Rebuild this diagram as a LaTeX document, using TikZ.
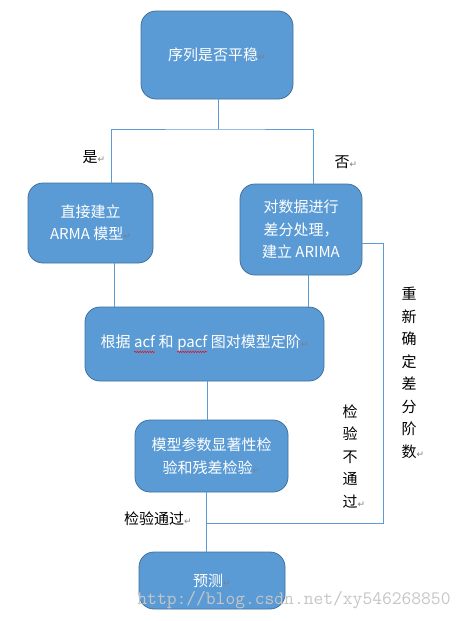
\documentclass[tikz,border=0pt]{standalone}
\usepackage{fontspec}
\usetikzlibrary{decorations.pathmorphing}
\setmainfont{Noto Sans CJK SC}
\newfontfamily\symfont{DejaVu Sans}
\definecolor{boxblue}{HTML}{5B9BD5}
\definecolor{boxedge}{HTML}{41719C}
\definecolor{linkblue}{HTML}{5B9BD5}
\newcommand{\ret}{{\symfont\fontsize{9}{9}\selectfont\color{gray}↵}}
\newcommand{\spell}[1]{\tikz[baseline=(w.base)]{\node[inner sep=0pt, outer sep=0pt, minimum width=0pt,
    minimum height=0pt, draw=none, fill=none, rounded corners=0pt, text=white](w){#1};
  \draw[red, line width=0.5pt, rounded corners=0pt, decorate, decoration={snake, amplitude=0.7pt, segment length=2.5pt}]
    ([yshift=-4pt]w.base west) -- ([yshift=-4pt]w.base east);}}

\begin{document}
\begin{tikzpicture}[x=1pt, y=-1pt,
    box/.style={draw=boxedge, fill=boxblue, rounded corners=15pt, text=white, align=center,
      font=\fontsize{15}{22.5}\selectfont, line width=0.8pt, inner sep=0pt},
    link/.style={draw=linkblue, line width=0.8pt},
    lbl/.style={font=\fontsize{15}{22.5}\selectfont, inner sep=0pt, align=center}]
  \useasboundingbox[fill=white] (0,0) rectangle (466,621);

  % boxes
  \node[box, minimum width=152pt, minimum height=88pt] (seq) at (217,55) {序列是否平稳\ret};
  \node[box, minimum width=125pt, minimum height=80pt] (direct) at (90.5,223) {直接建立\\ARMA 模型\ret};
  \node[box, minimum width=122pt, minimum height=91pt] (diff) at (301,229.5) {对数据进行\\差分处理，\\建立 ARIMA};
  \node[box, minimum width=239pt, minimum height=74pt] (order) at (204.5,344) {根据 \spell{acf} 和 \spell{pacf} 图对模型定阶\ret};
  \node[box, minimum width=153pt, minimum height=72pt] (check) at (211.5,456) {模型参数显著性检\\验和残差检验\ret};
  \node[box, minimum width=146pt, minimum height=57pt] (pred) at (212,580.5) {预测\ret};

  % labels
  \node[lbl] (yes) at (94,157) {是\ret};
  \node[lbl] (no) at (346,162) {否\ret};
  \node[lbl] (pass) at (158,519) {检验通过\ret};
  \node[lbl] (fail) at (350,456.5) {检\\验\\不\\通\\过\rlap{\ret}};
  \node[lbl] (redo) at (409,373) {重\\新\\确\\定\\差\\分\\阶\\数\rlap{\ret}};

  % connectors
  \coordinate (fork) at (218,129);
  \coordinate (back) at (206,523);
  \draw[link] (seq.south -| fork) -- (fork);
  \draw[link] (direct.north -| 111,0) |- (fork) -| (diff.north -| 313,0);
  \draw[link] (direct.south -| 114,0) -- (order.north -| 114,0);
  \draw[link] (diff.south -| 308,0) -- (order.north -| 308,0);
  \draw[link] (order.south -| 207,0) -- (check.north -| 207,0);
  \draw[link] (check.south -| back) -- (pred.north -| back);
  \draw[link] (diff.east |- 0,243) -| (383,523) -- (back);

  % watermark
  \node[text=gray!45, font=\ttfamily\fontsize{19}{19}\selectfont, inner sep=0pt] (mark) at (294,600) {http://blog.csdn.net/xy546268850};
\end{tikzpicture}
\end{document}
